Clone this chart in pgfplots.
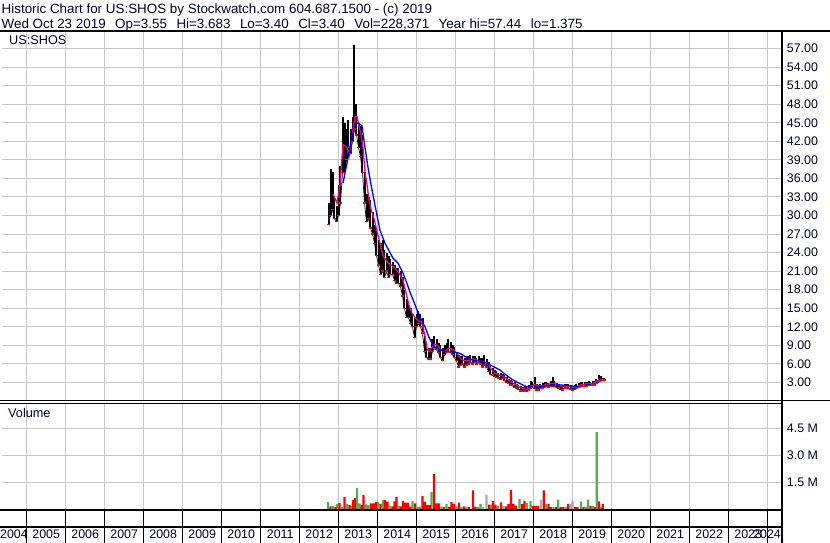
\documentclass[border=0pt]{standalone}
\usepackage{pgfplots}
\pgfplotsset{compat=1.18}
\usepackage{pgfplotstable}
\usepackage{fontspec}
\setmainfont{Liberation Sans}
\definecolor{gridc}{RGB}{200,200,200}
\definecolor{vgreen}{RGB}{76,178,76}
\definecolor{vgrey}{RGB}{170,170,170}
\definecolor{txt}{RGB}{0,0,48}
\newcommand\lf{\fontsize{12.4bp}{14bp}\selectfont\color{txt}}
\newcommand\hf{\fontsize{13.4bp}{15bp}\selectfont\color{txt}}

\pgfplotstableread{
x lo hi
2012.739 28.5 32
2012.790 30 37.5
2012.841 31 37
2012.892 29.5 33
2012.944 29 31.5
2012.995 30 35
2013.046 32 38
2013.098 37 46
2013.149 37 45
2013.200 39 44
2013.251 41 45.5
2013.303 40 44
2013.354 42 46
2013.405 44 57.5
2013.456 43 48
2013.508 41 45
2013.559 39.5 44.5
2013.610 37 43
2013.662 32 37
2013.713 29 33.5
2013.764 29.5 33
2013.815 28 32.5
2013.867 27 30.5
2013.918 25.5 28.5
2013.969 23.5 27.5
2014.021 22 26
2014.072 20.5 25.5
2014.123 21 26
2014.174 20 24.5
2014.226 21 24
2014.277 20 23.5
2014.328 20.5 23
2014.380 20.5 22.5
2014.431 19.5 22
2014.482 19 21.5
2014.533 19 21.5
2014.585 18.5 21
2014.636 17 20
2014.687 15 18
2014.739 13.5 16.5
2014.790 13.5 15.5
2014.841 12.5 15
2014.892 12 14
2014.944 10.3 13.5
2014.995 12 14
2015.046 12.5 14.5
2015.097 12 14
2015.149 11 13.5
2015.200 8 10.5
2015.251 7 9
2015.303 6.8 8.5
2015.354 6.8 8.5
2015.405 8 10
2015.456 8.5 10.5
2015.508 8.3 10
2015.559 7.8 9.3
2015.610 7 9
2015.662 6.5 8.5
2015.713 7.5 9
2015.764 7.8 9.3
2015.815 8 10
2015.867 7.8 9.5
2015.918 7.5 9
2015.969 7 8.7
2016.021 6.5 8
2016.072 5.5 7.5
2016.123 5.8 7.2
2016.174 6 7.3
2016.226 5.5 7
2016.277 5.8 7.2
2016.328 6 7.3
2016.379 6.2 7.5
2016.431 6 7.2
2016.482 6.2 7.3
2016.533 6 7
2016.585 6.2 7.3
2016.636 6 7
2016.687 5.5 7
2016.738 5.8 7.4
2016.790 5.5 6.8
2016.841 4.8 6.3
2016.892 4.3 5.8
2016.944 4.2 5.3
2016.995 4 5
2017.046 3.8 4.8
2017.097 3.7 4.6
2017.149 3.5 4.5
2017.200 3.6 4.4
2017.251 3.3 4.2
2017.303 3 3.9
2017.354 2.8 3.6
2017.405 2.6 3.4
2017.456 2.5 3.2
2017.508 2.2 3
2017.559 2.1 2.8
2017.610 1.9 2.6
2017.662 1.6 2.4
2017.713 1.5 2.3
2017.764 1.6 2.4
2017.815 1.5 2.2
2017.867 1.8 2.6
2017.918 2 3.2
2017.969 2.2 3
2018.021 2 3.9
2018.072 1.8 2.7
2018.123 1.8 2.6
2018.174 2 2.8
2018.226 2.1 2.9
2018.277 2.2 3.1
2018.328 2.3 3.1
2018.379 2.2 2.9
2018.431 2.3 3.2
2018.482 2.4 3.9
2018.533 2.3 3.3
2018.585 2.2 2.9
2018.636 2.1 2.8
2018.687 1.9 2.6
2018.738 1.8 2.5
2018.790 2 2.7
2018.841 2.1 2.8
2018.892 2 2.7
2018.944 1.9 2.6
2018.995 1.8 2.5
2019.046 1.9 2.6
2019.097 2.1 2.8
2019.149 2.2 2.9
2019.200 2.3 3
2019.251 2.4 3.1
2019.303 2.3 3
2019.354 2.4 3.1
2019.405 2.5 3.2
2019.456 2.5 3.1
2019.508 2.6 3.2
2019.559 2.6 3.3
2019.610 2.8 3.5
2019.662 3.2 4.2
2019.713 3.3 4.1
2019.764 3.3 3.8
2019.815 3.4 3.68
}\price

\pgfplotstableread{
x y
2012.854 33.5
2012.956 32
2013.033 35
2013.110 41.5
2013.213 41
2013.264 39.5
2013.315 41.5
2013.367 44
2013.418 46
2013.469 46
2013.520 44.5
2013.572 43
2013.623 41
2013.674 37
2013.726 35
2013.777 32.5
2013.828 31
2013.905 29.5
2013.982 27.5
2014.059 25.5
2014.136 23.5
2014.239 22.5
2014.341 22
2014.444 21.5
2014.546 20.7
2014.649 19.5
2014.726 17.5
2014.803 15.5
2014.880 14.2
2014.956 13.5
2015.033 13
2015.110 12.8
2015.162 12
2015.213 10.5
2015.264 8.5
2015.315 8
2015.392 8.7
2015.469 9.2
2015.546 8.9
2015.623 8.3
2015.726 8
2015.828 8.6
2015.931 8.3
2016.033 7.7
2016.136 6.8
2016.239 6.5
2016.341 6.6
2016.444 6.8
2016.546 6.6
2016.649 6.4
2016.751 6.3
2016.828 5.9
2016.905 5.2
2017.008 4.5
2017.110 4.2
2017.213 4
2017.315 3.6
2017.418 3.1
2017.520 2.7
2017.623 2.3
2017.726 2
2017.828 1.9
2017.931 2.4
2018.033 2.7
2018.136 2.4
2018.239 2.5
2018.341 2.7
2018.444 2.8
2018.546 2.9
2018.649 2.5
2018.751 2.3
2018.854 2.4
2018.956 2.3
2019.059 2.2
2019.162 2.5
2019.264 2.7
2019.367 2.8
2019.469 2.8
2019.572 3
2019.674 3.5
2019.777 3.5
}\mashort

\pgfplotstableread{
x y
2013.110 35.2
2013.213 38.5
2013.315 42
2013.418 44.5
2013.495 45
2013.597 44.5
2013.674 41
2013.751 37.8
2013.828 35
2013.905 32.5
2013.982 30
2014.059 27.6
2014.187 25.5
2014.315 24
2014.392 23.1
2014.520 22.3
2014.649 20.7
2014.751 19
2014.828 17.6
2014.931 16
2015.008 14.7
2015.110 13.3
2015.213 12
2015.315 10.3
2015.418 9
2015.520 8.5
2015.597 8.3
2015.777 7.9
2015.931 8
2016.110 7.7
2016.290 7
2016.444 6.6
2016.623 6.4
2016.803 6.1
2016.956 5.6
2017.136 5
2017.290 4.2
2017.469 3.4
2017.649 2.8
2017.828 2.3
2017.982 2.2
2018.162 2.3
2018.341 2.5
2018.495 2.6
2018.674 2.6
2018.854 2.5
2019.008 2.4
2019.187 2.3
2019.367 2.5
2019.520 2.7
2019.649 3
2019.751 3.4
}\malong

\pgfplotstableread{
x v
2012.726 0.39
2012.854 0.17
2012.956 0.28
2013.085 0.11
2013.213 0.28
2013.315 0.17
2013.469 1.18
2013.533 0.32
2013.700 0.26
2013.764 0.22
2014.008 0.39
2014.136 0.50
2014.315 0.17
2014.546 0.17
2014.892 0.44
2015.020 0.13
2015.085 0.13
2015.380 0.94
2015.636 0.13
2015.764 0.28
2016.021 0.14
2016.149 0.11
2016.277 0.11
2016.572 0.11
2016.636 0.29
2016.905 0.24
2017.085 0.17
2017.226 0.15
2017.636 0.57
2017.828 0.33
2017.918 0.46
2018.315 0.29
2018.508 0.11
2018.623 0.52
2018.815 0.11
2019.213 0.41
2019.341 0.11
2019.392 0.52
2019.520 0.18
2019.618 4.29
2019.726 0.11
}\volgreen

\pgfplotstableread{
x v
2012.790 0.14
2012.918 0.11
2013.021 0.33
2013.149 0.68
2013.277 0.22
2013.367 0.50
2013.418 0.61
2013.585 0.22
2013.636 0.78
2013.828 0.32
2013.892 0.32
2013.956 0.39
2014.072 0.28
2014.187 0.50
2014.251 0.41
2014.380 0.14
2014.431 0.43
2014.482 0.68
2014.597 0.14
2014.649 0.44
2014.713 0.35
2014.777 0.35
2014.841 0.13
2014.956 0.32
2015.149 0.72
2015.213 0.41
2015.277 0.22
2015.341 0.22
2015.444 1.96
2015.508 0.32
2015.572 0.32
2015.700 0.11
2015.828 0.11
2015.892 0.39
2015.956 0.28
2016.085 0.35
2016.213 0.14
2016.341 0.11
2016.444 1.04
2016.508 0.11
2016.854 0.24
2016.956 0.46
2017.021 0.24
2017.162 0.37
2017.290 0.15
2017.354 0.29
2017.418 1.07
2017.482 0.29
2017.546 0.17
2017.700 0.29
2017.764 0.46
2017.982 0.18
2018.046 0.18
2018.110 0.18
2018.256 1.04
2018.380 0.29
2018.444 0.11
2018.572 0.11
2018.687 0.11
2018.751 0.11
2018.880 0.28
2019.059 0.11
2019.123 0.11
2019.277 0.11
2019.456 0.18
2019.572 0.11
2019.674 0.43
2019.769 0.29
}\volred

\pgfplotstableread{
x v
2016.700 0.11
2016.790 0.79
2018.187 0.52
2018.931 0.28
2018.995 0.46
}\volgrey

\begin{document}
\begin{tikzpicture}
\path[use as bounding box, fill=white] (0bp,0bp) rectangle (830bp,543bp);

% price panel
\begin{axis}[
  at={(2bp,142bp)}, anchor=south west, scale only axis,
  width=779.7bp, height=371bp,
  xmin=2004.3667, xmax=2024.359, ymin=0, ymax=60,
  axis line style={draw=none}, tick style={draw=none},
  major tick length=0pt,
  xtick={2005,2006,...,2024}, xticklabels={},
  ytick={3,6,...,57}, yticklabel pos=right,
  grid=major, major grid style={gridc, line width=1bp},
  yticklabel style={anchor=west, inner sep=0pt, xshift=5bp, font=\lf,
    /pgf/number format/.cd, fixed, fixed zerofill, precision=2, assume math mode=true},
]
\addplot[black, line width=0.7bp, mark=none,
  error bars/.cd, y dir=plus, y explicit, error mark=none,
  error bar style={line width=2bp, black}]
  table[x=x, y=lo, y error expr=\thisrow{hi}-\thisrow{lo}] {\price};
\addplot[red, only marks, mark=-, mark size=1.3bp, mark options={line width=1.3bp}]
  table[x=x, y=lo] {\price};
\addplot[magenta, line width=1.3bp, mark=none] table[x=x, y=y] {\mashort};
\addplot[blue, line width=1.3bp, mark=none] table[x=x, y=y] {\malong};
\end{axis}

% volume panel
\begin{axis}[
  at={(2bp,34bp)}, anchor=south west, scale only axis,
  width=779.7bp, height=105.2bp,
  xmin=2004.3667, xmax=2024.359, ymin=0, ymax=5.87,
  axis line style={draw=none}, tick style={draw=none},
  major tick length=0pt,
  xtick={2005,2006,...,2024}, xticklabels={},
  ytick={1.5,3,4.5}, yticklabels={1.5 M,3.0 M,4.5 M}, yticklabel pos=right,
  grid=major, major grid style={gridc, line width=1bp},
  yticklabel style={anchor=west, inner sep=0pt, xshift=5bp, font=\lf},
]
\addplot[ybar, bar width=2.2bp, bar shift=0pt, fill=vgreen, draw=none] table[x=x, y=v] {\volgreen};
\addplot[ybar, bar width=2.2bp, bar shift=0pt, fill=red, draw=none] table[x=x, y=v] {\volred};
\addplot[ybar, bar width=2.2bp, bar shift=0pt, fill=vgrey, draw=none] table[x=x, y=v] {\volgrey};
\end{axis}

% frame lines
\draw[line width=2bp] (0bp,512.2bp) -- (830bp,512.2bp);
\draw[line width=1.2bp] (0bp,142.3bp) -- (830bp,142.3bp);
\draw[line width=1.2bp] (0bp,139.6bp) -- (781.7bp,139.6bp);
\draw[line width=2bp] (0bp,33.3bp) -- (781.7bp,33.3bp);
\draw[line width=2bp] (0bp,16.2bp) -- (781.7bp,16.2bp);
\foreach \i in {0,...,19} {
  \draw[line width=1bp] ({26.7bp+39bp*\i},0bp) -- ({26.7bp+39bp*\i},33.3bp);
}
\draw[line width=2bp] (781.7bp,0bp) -- (781.7bp,513.2bp);

% year labels
\foreach \i in {0,...,18} {
  \pgfmathtruncatemacro{\yr}{2005+\i}
  \node[font=\lf, inner sep=0pt] at ({46.2bp+39bp*\i},8.3bp) {\yr};
}
\node[font=\lf, inner sep=0pt, anchor=west] at (0bp,8.3bp) {2004};
\node[font=\lf, inner sep=0pt, anchor=east] at (781bp,8.3bp) {2024};

% texts
\node[font=\hf, inner sep=0pt, anchor=base west] at (1.5bp,529.7bp)
  {Historic Chart for US:SHOS by Stockwatch.com 604.687.1500 - (c) 2019};
\node[font=\hf, inner sep=0pt, anchor=base west] at (1.5bp,514.9bp)
  {Wed Oct 23 2019\hspace{9.5bp}Op=3.55\hspace{9.5bp}Hi=3.683\hspace{9.5bp}Lo=3.40\hspace{9.5bp}Cl=3.40\hspace{9.5bp}Vol=228,371\hspace{9.5bp}Year hi=57.44\hspace{9.5bp}lo=1.375};
\node[font=\fontsize{12.7bp}{14bp}\selectfont\color{txt}, inner sep=0pt, anchor=base west] at (9bp,498bp) {US:SHOS};
\node[font=\fontsize{12.7bp}{14bp}\selectfont\color{txt}, inner sep=0pt, anchor=base west] at (8bp,125.5bp) {Volume};
\end{tikzpicture}
\end{document}
